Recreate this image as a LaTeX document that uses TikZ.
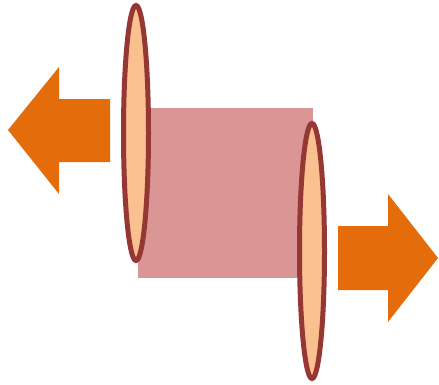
\documentclass[tikz,border=0pt]{standalone}
\usepackage{tikz}
\usetikzlibrary{shapes.arrows}

\definecolor{pushorange}{HTML}{E46C0A}
\definecolor{plateface}{HTML}{FAC090}
\definecolor{plateedge}{HTML}{953735}
\definecolor{bodypink}{HTML}{D99694}

\begin{document}
\begin{tikzpicture}[
    x=1pt, y=-1pt,
    body/.style={fill=bodypink, draw=none},
    plate/.style={fill=plateface, draw=plateedge, line width=5pt},
    push/.style={fill=pushorange, draw=none},
]
    \useasboundingbox (0,0) rectangle (439,384);

    % cylinder body
    \path [body] (138,108) rectangle (313,278);

    % end plates
    \path [plate] (136,133) ellipse [x radius=12.5, y radius=127.5];
    \path [plate] (312,251) ellipse [x radius=12.5, y radius=127.5];

    % left arrow
    \path [push] (8,130) -- (59,67) -- (59,99) -- (110,99) -- (110,162)
        -- (59,162) -- (59,194) -- cycle;

    % right arrow
    \path [push] (438,258) -- (388,194) -- (388,226) -- (338,226) -- (338,290)
        -- (388,290) -- (388,322) -- cycle;

\end{tikzpicture}
\end{document}
